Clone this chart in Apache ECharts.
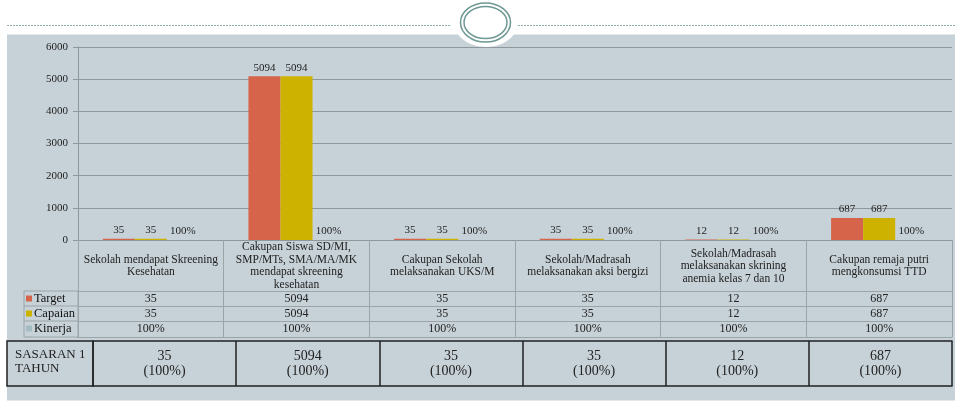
<!DOCTYPE html>
<html><head><meta charset="utf-8">
<script src="https://cdn.jsdelivr.net/npm/echarts@6/dist/echarts.min.js"></script>
<style>html,body{margin:0;padding:0;background:#fff}#c{width:955px;height:403px}</style>
</head><body><div id="c"></div>
<script>
const categories = [
  'Sekolah mendapat Skreening\nKesehatan',
  'Cakupan Siswa SD/MI,\nSMP/MTs, SMA/MA/MK\nmendapat skreening\nkesehatan',
  'Cakupan Sekolah\nmelaksanakan UKS/M',
  'Sekolah/Madrasah\nmelaksanakan aksi bergizi',
  'Sekolah/Madrasah\nmelaksanakan skrining\nanemia kelas 7 dan 10',
  'Cakupan remaja putri\nmengkonsumsi TTD'
];
const target = [35, 5094, 35, 35, 12, 687];
const capaian = [35, 5094, 35, 35, 12, 687];
const kinerja = [100, 100, 100, 100, 100, 100]; // percent
const seriesNames = ['Target', 'Capaian', 'Kinerja'];
const yMin = 0, yMax = 6000, yInterval = 1000;
const sasaranLabel = 'SASARAN 1\nTAHUN';

const colors = ['#D5644A', '#CDB300', '#A2BCC1'];
const FONT = 'Liberation Serif';
const lineCol = '#9AA4A9';
const gridCol = '#8D979C';

const chart = echarts.init(document.getElementById('c'));

function rowAxis(offset, values, suffix) {
  return {
    type: 'category', gridIndex: 0, position: 'bottom', offset: offset,
    data: categories,
    axisLine: { show: true, lineStyle: { color: lineCol, width: 1 } },
    axisTick: { show: false }, splitLine: { show: false },
    axisLabel: values ? {
      show: true, interval: 0, margin: 7.5, verticalAlign: 'middle',
      fontFamily: FONT, fontSize: 12, color: '#222',
      formatter: (v, i) => values[i] + (suffix || '')
    } : { show: false }
  };
}

const option = {
  animation: false,
  color: colors,
  textStyle: { fontFamily: FONT },
  grid: [
    { left: 78, right: 3, top: 47, bottom: 163 },
    { left: 93, right: 3, top: 341, height: 45 }
  ],
  legend: {
    data: seriesNames, orient: 'vertical', left: 26, top: 291,
    itemWidth: 6, itemHeight: 6, itemGap: 0, padding: 0, icon: 'rect',
    selectedMode: false,
    textStyle: { fontFamily: FONT, fontSize: 12.5, lineHeight: 15, color: '#111', padding: [0, 0, 0, -3] }
  },
  xAxis: [
    {
      type: 'category', gridIndex: 0, data: categories,
      axisLine: { show: true, lineStyle: { color: gridCol, width: 1 } },
      axisTick: { show: true, interval: 0, length: 97, lineStyle: { color: lineCol, width: 1 } },
      axisLabel: {
        interval: 0, margin: 26, verticalAlign: 'middle', align: 'center',
        fontFamily: FONT, fontSize: 11.5, lineHeight: 12.5, color: '#222'
      },
      splitLine: { show: false }
    },
    rowAxis(51, target),
    rowAxis(66, capaian),
    rowAxis(81, kinerja, '%'),
    rowAxis(97, null),
    {
      type: 'category', gridIndex: 1, data: categories, position: 'bottom',
      axisLine: { show: true, lineStyle: { color: '#222', width: 1.5 } },
      axisTick: { show: true, inside: true, interval: 0, length: 45, lineStyle: { color: '#222', width: 1.5 } },
      axisLabel: {
        inside: true, interval: 0, margin: 22, verticalAlign: 'middle',
        fontFamily: FONT, fontSize: 14, lineHeight: 14.5, color: '#222',
        formatter: (v, i) => target[i] + '\n(' + kinerja[i] + '%)'
      },
      splitLine: { show: false }
    },
    {
      type: 'category', gridIndex: 1, data: categories, position: 'top',
      axisLine: { show: true, lineStyle: { color: '#222', width: 1.5 } },
      axisTick: { show: false }, axisLabel: { show: false }, splitLine: { show: false }
    }
  ],
  yAxis: [
    {
      type: 'value', gridIndex: 0, min: yMin, max: yMax, interval: yInterval,
      axisLine: { show: true, lineStyle: { color: gridCol, width: 1 } },
      axisTick: { show: true, length: 5, lineStyle: { color: gridCol } },
      axisLabel: { margin: 10, fontFamily: FONT, fontSize: 11, color: '#222', formatter: v => String(v) },
      splitLine: { show: true, lineStyle: { color: gridCol, width: 1 } }
    },
    { type: 'value', gridIndex: 1, show: false }
  ],
  series: [
    {
      name: seriesNames[0], type: 'bar', xAxisIndex: 0, yAxisIndex: 0,
      data: target, barGap: 0, barCategoryGap: '34%',
      label: { show: true, position: 'top', distance: 3, fontSize: 11, fontFamily: FONT, color: '#222' }
    },
    {
      name: seriesNames[1], type: 'bar', xAxisIndex: 0, yAxisIndex: 0,
      data: capaian, barGap: 0, barCategoryGap: '34%',
      label: { show: true, position: 'top', distance: 3, fontSize: 11, fontFamily: FONT, color: '#222' }
    },
    {
      name: seriesNames[2], type: 'bar', xAxisIndex: 0, yAxisIndex: 0,
      data: kinerja.map(v => v / 100), barGap: 0, barCategoryGap: '34%',
      label: {
        show: true, position: 'top', distance: 3, fontSize: 11, fontFamily: FONT, color: '#222',
        formatter: p => kinerja[p.dataIndex] + '%'
      }
    }
  ],
  graphic: [
    { type: 'rect', z: -20, silent: true, shape: { x: 7, y: 34.5, width: 948, height: 366 }, style: { fill: '#C7D2D8' } },
    { type: 'line', z: -15, silent: true, shape: { x1: 7, y1: 25.5, x2: 451, y2: 25.5 }, style: { stroke: '#8DB0A9', lineWidth: 1, lineDash: [2, 1] } },
    { type: 'line', z: -15, silent: true, shape: { x1: 518, y1: 25.5, x2: 955, y2: 25.5 }, style: { stroke: '#8DB0A9', lineWidth: 1, lineDash: [2, 1] } },
    { type: 'ellipse', z: -12, silent: true, shape: { cx: 486, cy: 22, rx: 32, ry: 25 }, style: { fill: '#FFFFFF' } },
    { type: 'ellipse', z: -11, silent: true, shape: { cx: 485.5, cy: 22.5, rx: 25, ry: 19.5 }, style: { fill: 'none', stroke: '#6E9893', lineWidth: 1.5 } },
    { type: 'ellipse', z: -11, silent: true, shape: { cx: 485.5, cy: 22.5, rx: 21.5, ry: 16 }, style: { fill: 'none', stroke: '#6E9893', lineWidth: 1.5 } },
    // legend column frame of the data table
    { type: 'rect', silent: true, shape: { x: 24, y: 291, width: 54, height: 46 }, style: { fill: 'none', stroke: lineCol, lineWidth: 1 } },
    { type: 'line', silent: true, shape: { x1: 24, y1: 306, x2: 78, y2: 306 }, style: { stroke: lineCol, lineWidth: 1 } },
    { type: 'line', silent: true, shape: { x1: 24, y1: 321, x2: 78, y2: 321 }, style: { stroke: lineCol, lineWidth: 1 } },
    // sasaran header cell
    { type: 'rect', silent: true, shape: { x: 7, y: 341, width: 86, height: 45 }, style: { fill: 'none', stroke: '#222', lineWidth: 1.5 } },
    { type: 'text', silent: true, left: 15, top: 347, style: { text: sasaranLabel, fontFamily: FONT, fontSize: 13, lineHeight: 14.5, fill: '#222' } }
  ]
};
chart.setOption(option);
</script></body></html>
